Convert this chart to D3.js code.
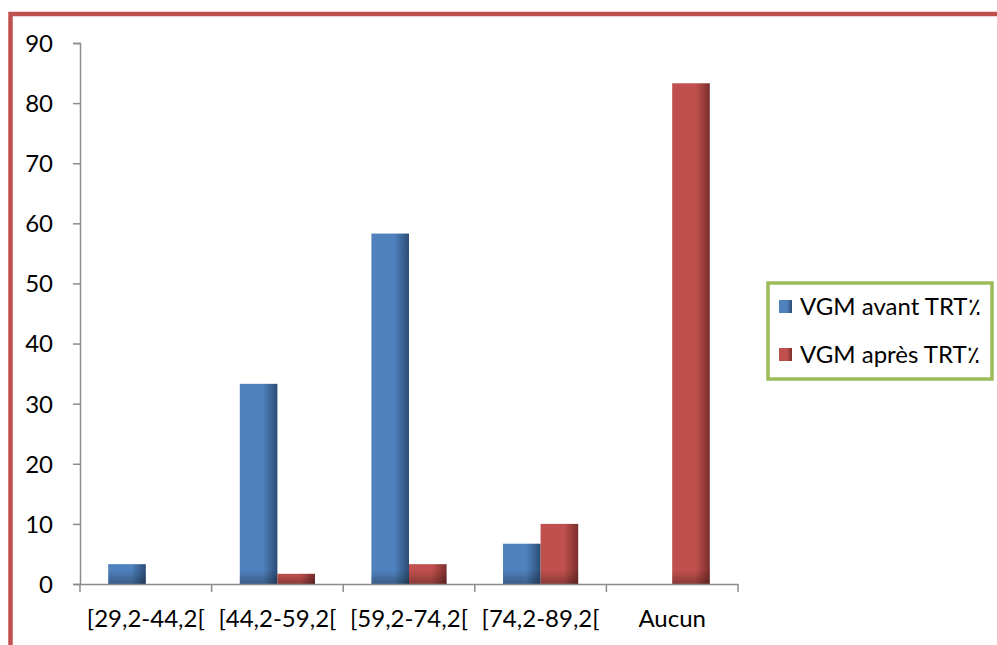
<!DOCTYPE html>
<html>
<head>
<meta charset="utf-8">
<script src="https://cdn.jsdelivr.net/npm/d3@7"></script>
<style>
  html, body { margin: 0; padding: 0; background: #fff; }
  svg { display: block; }
  text { font-family: Lato, "Open Sans", sans-serif; fill: #000; }
</style>
</head>
<body>
<svg id="chart" width="997" height="645"></svg>
<script>
// Data
const categories = ["[29,2-44,2[", "[44,2-59,2[", "[59,2-74,2[", "[74,2-89,2[", "Aucun"];
const avant = [3.3, 33.3, 58.3, 6.7, 0];
const apres = [0, 1.7, 3.3, 10, 83.3];
const seriesNames = ["VGM avant TRT\u066A", "VGM après TRT\u066A"];
const yTicks = [0, 10, 20, 30, 40, 50, 60, 70, 80, 90];

const W = 997, H = 645;
const FS = 24;
const svg = d3.select("#chart");

const plot = { left: 80, right: 738, top: 43, bottom: 584 };

// Gradients for the bars
const defs = svg.append("defs");
function grad(id, base, dark) {
  const g = defs.append("linearGradient").attr("id", id)
    .attr("x1", "0").attr("x2", "1").attr("y1", "0").attr("y2", "0");
  g.append("stop").attr("offset", "0%").attr("stop-color", base);
  g.append("stop").attr("offset", "62%").attr("stop-color", base);
  g.append("stop").attr("offset", "100%").attr("stop-color", dark);
}
grad("gBlue", "#4F81BD", "#2B4C74");
grad("gRed", "#C0504D", "#7A2E2C");
// darker band along the base of each bar
const vg = defs.append("linearGradient").attr("id", "gShade")
  .attr("x1", "0").attr("x2", "0").attr("y1", "0").attr("y2", "1");
vg.append("stop").attr("offset", "0%").attr("stop-color", "#000").attr("stop-opacity", 0);
vg.append("stop").attr("offset", "100%").attr("stop-color", "#000").attr("stop-opacity", 0.28);

// Outer frame (red, only top/left visible)
svg.append("rect")
  .attr("x", 10.5).attr("y", 14)
  .attr("width", 1100).attr("height", 800)
  .attr("fill", "none").attr("stroke", "#C0504D").attr("stroke-width", 4.5);

const x0 = d3.scaleBand().domain(categories)
  .range([plot.left, plot.right]).paddingInner(0).paddingOuter(0);
const bw = x0.bandwidth() / 3.5;   // 150% gap width
const y = d3.scaleLinear().domain([0, 90]).range([plot.bottom, plot.top]);

// Y axis
const yAxis = d3.axisLeft(y).tickValues(yTicks).tickSize(7).tickPadding(20).tickFormat(d3.format("d"));
const yg = svg.append("g").attr("transform", `translate(${plot.left},0)`).call(yAxis);
yg.select(".domain").attr("stroke", "#8C8C8C").attr("stroke-width", 1.5);
yg.selectAll(".tick line").attr("stroke", "#8C8C8C").attr("stroke-width", 1.5);
yg.selectAll(".tick text").attr("font-size", FS).attr("font-family", "Lato, sans-serif").attr("dy", "0.35em");

// Bars
const blockBlue = svg.append("g");
const blockRed = svg.append("g");
function bars(g, vals, off, fill) {
  const sel = g.selectAll("g").data(vals).enter().append("g");
  const xs = (d, i) => x0(categories[i]) + bw * 0.75 + off * bw;
  sel.append("rect")
    .attr("x", xs).attr("width", bw)
    .attr("y", d => y(d)).attr("height", d => y(0) - y(d))
    .attr("fill", fill);
  sel.append("rect")
    .attr("x", xs).attr("width", bw)
    .attr("y", d => Math.max(y(d), y(0) - 14)).attr("height", d => Math.min(y(0) - y(d), 14))
    .attr("fill", "url(#gShade)");
}
bars(blockBlue, avant, 0, "url(#gBlue)");
bars(blockRed, apres, 1, "url(#gRed)");

// X axis
const xAxis = d3.axisBottom(x0).tickSize(0).tickPadding(26);
const xg = svg.append("g").attr("transform", `translate(0,${plot.bottom})`).call(xAxis);
xg.select(".domain").attr("stroke", "#8C8C8C").attr("stroke-width", 1.5);
xg.selectAll(".tick text").attr("font-size", FS).attr("font-family", "Lato, sans-serif");
// category separators
const seps = categories.map(c => x0(c)).concat([plot.right]);
xg.selectAll("line.sep").data(seps).enter().append("line")
  .attr("class", "sep")
  .attr("x1", d => d).attr("x2", d => d)
  .attr("y1", 0).attr("y2", 8)
  .attr("stroke", "#8C8C8C").attr("stroke-width", 1.5);

// Legend
const lg = svg.append("g");
lg.append("rect").attr("x", 768).attr("y", 283).attr("width", 224).attr("height", 96)
  .attr("fill", "#fff").attr("stroke", "#9BBB59").attr("stroke-width", 3.5);
const fills = ["url(#gBlue)", "url(#gRed)"];
seriesNames.forEach((name, i) => {
  const cy = 306 + i * 48;
  lg.append("rect").attr("x", 779).attr("y", cy - 6).attr("width", 13).attr("height", 13)
    .attr("fill", fills[i]);
  lg.append("text").attr("x", 800).attr("y", cy).attr("dy", "0.36em")
    .attr("font-size", FS).text(name);
});
</script>
</body>
</html>
